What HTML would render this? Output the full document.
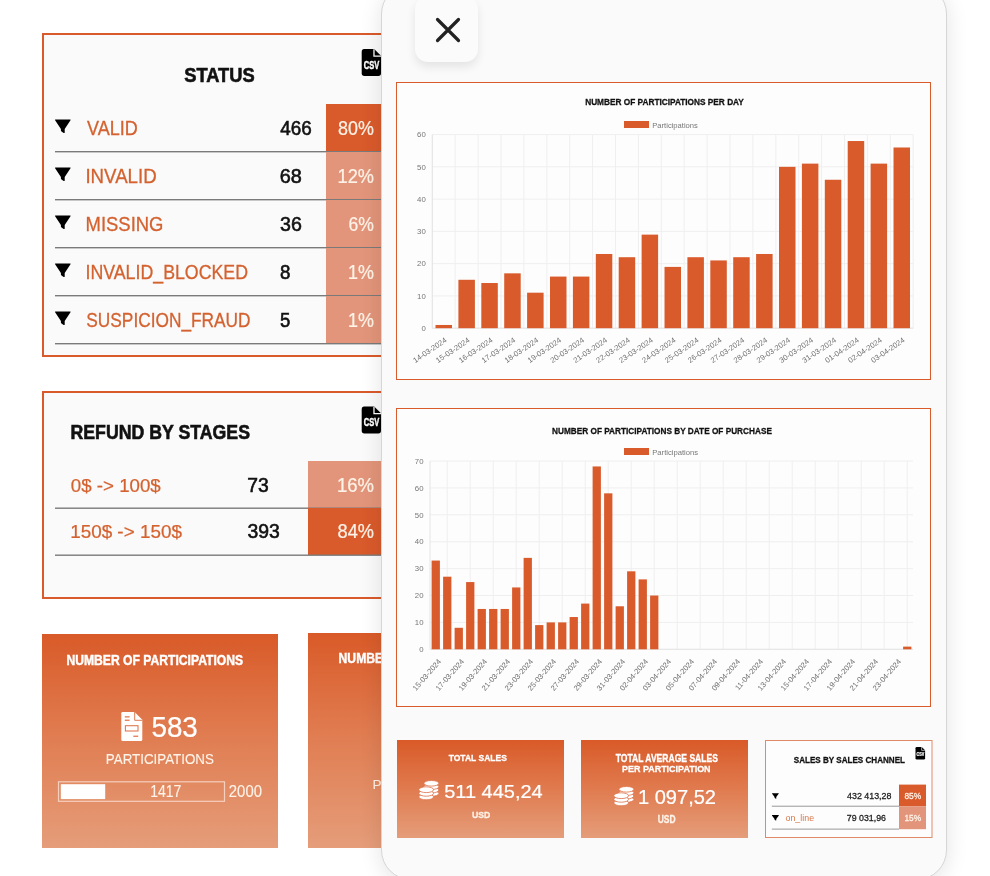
<!DOCTYPE html>
<html><head><meta charset="utf-8"><title>Dashboard</title>
<style>
html,body{margin:0;padding:0}
body{width:990px;height:876px;overflow:hidden;position:relative;background:#fff}
svg{position:absolute;left:0;top:0;font-family:'Liberation Sans', Arial, sans-serif}
</style></head><body>
<svg width="990" height="876" viewBox="0 0 990 876">
<defs><linearGradient id="g1" x1="0" y1="0" x2="0" y2="1"><stop offset="0" stop-color="#d95a28"/><stop offset="0.45" stop-color="#e07b4f"/><stop offset="1" stop-color="#e59d7a"/></linearGradient></defs>
<rect x="43" y="34" width="420" height="322" fill="#fafafa" stroke="#d95a2b" stroke-width="2"/>
<text x="184.29" y="81.70" font-size="20.34" font-weight="bold" fill="#111" stroke="#111" stroke-width="0.61" textLength="70.39" lengthAdjust="spacingAndGlyphs">STATUS</text>
<g transform="translate(361.7,49) scale(0.9897,1.0000)"><path d="M2.5 0H12.6L19.5 6.8V24.3Q19.5 27 16.8 27H2.7Q0 27 0 24.3V2.7Q0 0 2.5 0Z" fill="#000"/><path d="M12.4 0.2V7.2H19.5" fill="none" stroke="#fff" stroke-width="1.3"/><text x="9.9" y="20" text-anchor="middle" font-weight="bold" font-size="11.4" fill="#fff" stroke="#fff" stroke-width="0.5" textLength="15.6" lengthAdjust="spacingAndGlyphs">CSV</text></g>
<rect x="326" y="104" width="80" height="47.5" fill="#d95a2b"/>
<rect x="55" y="151" width="350" height="1.4" fill="#7a7a7a"/>
<path transform="translate(54.8,119.5) scale(1.00000,0.98571)" d="M0.7 0H15.3Q16.2 0 15.7 0.8L9.9 9.7V13.1Q9.9 14.2 8.9 13.6L6.7 12.3Q6.1 11.9 6.1 11.2V9.7L0.3 0.8Q-0.2 0 0.7 0Z" fill="#000"/>
<text x="87.02" y="134.70" font-size="20.06" fill="#d4622f" stroke="#d4622f" stroke-width="0.30" textLength="50.72" lengthAdjust="spacingAndGlyphs">VALID</text>
<text x="280.37" y="134.70" font-size="19.62" fill="#111" stroke="#111" stroke-width="0.59" textLength="31.46" lengthAdjust="spacingAndGlyphs">466</text>
<text x="338.12" y="134.70" font-size="19.62" fill="#fdf3e8" stroke="#fdf3e8" stroke-width="0.24" textLength="35.82" lengthAdjust="spacingAndGlyphs">80%</text>
<rect x="326" y="152" width="80" height="47.5" fill="#e2957a"/>
<rect x="55" y="199" width="350" height="1.4" fill="#7a7a7a"/>
<path transform="translate(54.8,167.5) scale(1.00000,0.98571)" d="M0.7 0H15.3Q16.2 0 15.7 0.8L9.9 9.7V13.1Q9.9 14.2 8.9 13.6L6.7 12.3Q6.1 11.9 6.1 11.2V9.7L0.3 0.8Q-0.2 0 0.7 0Z" fill="#000"/>
<text x="85.41" y="182.70" font-size="20.06" fill="#d4622f" stroke="#d4622f" stroke-width="0.30" textLength="71.27" lengthAdjust="spacingAndGlyphs">INVALID</text>
<text x="279.79" y="182.70" font-size="19.62" fill="#111" stroke="#111" stroke-width="0.59" textLength="22.07" lengthAdjust="spacingAndGlyphs">68</text>
<text x="337.51" y="182.70" font-size="19.62" fill="#fdf3e8" stroke="#fdf3e8" stroke-width="0.24" textLength="36.44" lengthAdjust="spacingAndGlyphs">12%</text>
<rect x="326" y="200" width="80" height="47.5" fill="#e2957a"/>
<rect x="55" y="247" width="350" height="1.4" fill="#7a7a7a"/>
<path transform="translate(54.8,215.5) scale(1.00000,0.98571)" d="M0.7 0H15.3Q16.2 0 15.7 0.8L9.9 9.7V13.1Q9.9 14.2 8.9 13.6L6.7 12.3Q6.1 11.9 6.1 11.2V9.7L0.3 0.8Q-0.2 0 0.7 0Z" fill="#000"/>
<text x="85.59" y="230.70" font-size="19.76" fill="#d4622f" stroke="#d4622f" stroke-width="0.30" textLength="77.89" lengthAdjust="spacingAndGlyphs">MISSING</text>
<text x="280.05" y="230.70" font-size="19.62" fill="#111" stroke="#111" stroke-width="0.59" textLength="21.81" lengthAdjust="spacingAndGlyphs">36</text>
<text x="348.51" y="230.70" font-size="19.62" fill="#fdf3e8" stroke="#fdf3e8" stroke-width="0.24" textLength="25.42" lengthAdjust="spacingAndGlyphs">6%</text>
<rect x="326" y="248" width="80" height="47.5" fill="#e2957a"/>
<rect x="55" y="295" width="350" height="1.4" fill="#7a7a7a"/>
<path transform="translate(54.8,263.5) scale(1.00000,0.98571)" d="M0.7 0H15.3Q16.2 0 15.7 0.8L9.9 9.7V13.1Q9.9 14.2 8.9 13.6L6.7 12.3Q6.1 11.9 6.1 11.2V9.7L0.3 0.8Q-0.2 0 0.7 0Z" fill="#000"/>
<text x="85.47" y="278.70" font-size="19.76" fill="#d4622f" stroke="#d4622f" stroke-width="0.30" textLength="162.57" lengthAdjust="spacingAndGlyphs">INVALID_BLOCKED</text>
<text x="279.99" y="278.70" font-size="19.62" fill="#111" stroke="#111" stroke-width="0.59" textLength="10.43" lengthAdjust="spacingAndGlyphs">8</text>
<text x="348.03" y="278.70" font-size="19.74" fill="#fdf3e8" stroke="#fdf3e8" stroke-width="0.24" textLength="25.90" lengthAdjust="spacingAndGlyphs">1%</text>
<rect x="326" y="296" width="80" height="47.5" fill="#e2957a"/>
<rect x="55" y="343" width="350" height="1.4" fill="#7a7a7a"/>
<path transform="translate(54.8,311.5) scale(1.00000,0.98571)" d="M0.7 0H15.3Q16.2 0 15.7 0.8L9.9 9.7V13.1Q9.9 14.2 8.9 13.6L6.7 12.3Q6.1 11.9 6.1 11.2V9.7L0.3 0.8Q-0.2 0 0.7 0Z" fill="#000"/>
<text x="86.32" y="326.70" font-size="19.76" fill="#d4622f" stroke="#d4622f" stroke-width="0.30" textLength="164.21" lengthAdjust="spacingAndGlyphs">SUSPICION_FRAUD</text>
<text x="280.06" y="326.70" font-size="19.91" fill="#111" stroke="#111" stroke-width="0.60" textLength="10.32" lengthAdjust="spacingAndGlyphs">5</text>
<text x="348.03" y="326.70" font-size="19.74" fill="#fdf3e8" stroke="#fdf3e8" stroke-width="0.24" textLength="25.90" lengthAdjust="spacingAndGlyphs">1%</text>
<rect x="43" y="392" width="420" height="206" fill="#fafafa" stroke="#d95a2b" stroke-width="2"/>
<text x="70.53" y="439.30" font-size="20.19" font-weight="bold" fill="#111" stroke="#111" stroke-width="0.61" textLength="179.46" lengthAdjust="spacingAndGlyphs">REFUND BY STAGES</text>
<g transform="translate(361.7,406.5) scale(0.9897,1.0000)"><path d="M2.5 0H12.6L19.5 6.8V24.3Q19.5 27 16.8 27H2.7Q0 27 0 24.3V2.7Q0 0 2.5 0Z" fill="#000"/><path d="M12.4 0.2V7.2H19.5" fill="none" stroke="#fff" stroke-width="1.3"/><text x="9.9" y="20" text-anchor="middle" font-weight="bold" font-size="11.4" fill="#fff" stroke="#fff" stroke-width="0.5" textLength="15.6" lengthAdjust="spacingAndGlyphs">CSV</text></g>
<rect x="308" y="461" width="100" height="47" fill="#e2957a"/>
<rect x="55" y="507.5" width="350" height="1.4" fill="#7a7a7a"/>
<text x="70.87" y="491.80" font-size="18.51" fill="#d4622f" stroke="#d4622f" stroke-width="0.22" textLength="89.83" lengthAdjust="spacingAndGlyphs">0$ -&gt; 100$</text>
<text x="247.21" y="491.80" font-size="19.62" fill="#111" stroke="#111" stroke-width="0.59" textLength="21.43" lengthAdjust="spacingAndGlyphs">73</text>
<text x="336.89" y="491.80" font-size="19.62" fill="#fdf3e8" stroke="#fdf3e8" stroke-width="0.24" textLength="37.07" lengthAdjust="spacingAndGlyphs">16%</text>
<rect x="308" y="508" width="100" height="47" fill="#d95a2b"/>
<rect x="55" y="554.5" width="350" height="1.4" fill="#7a7a7a"/>
<text x="70.16" y="538.40" font-size="18.51" fill="#d4622f" stroke="#d4622f" stroke-width="0.22" textLength="111.74" lengthAdjust="spacingAndGlyphs">150$ -&gt; 150$</text>
<text x="247.46" y="538.40" font-size="19.62" fill="#111" stroke="#111" stroke-width="0.59" textLength="32.29" lengthAdjust="spacingAndGlyphs">393</text>
<text x="337.51" y="538.40" font-size="19.62" fill="#fdf3e8" stroke="#fdf3e8" stroke-width="0.24" textLength="36.44" lengthAdjust="spacingAndGlyphs">84%</text>
<rect x="42" y="634" width="236" height="214" fill="url(#g1)"/>
<rect x="308" y="633" width="200" height="215" fill="url(#g1)"/>
<text x="66.40" y="664.50" font-size="13.89" font-weight="bold" fill="#fff" stroke="#fff" stroke-width="0.42" textLength="176.77" lengthAdjust="spacingAndGlyphs">NUMBER OF PARTICIPATIONS</text>
<text x="338.60" y="663.40" font-size="13.89" font-weight="bold" fill="#fff" stroke="#fff" stroke-width="0.42" textLength="176.77" lengthAdjust="spacingAndGlyphs">NUMBER OF PARTICIPATIONS</text>
<text x="372.60" y="789.00" font-size="13.6" fill="#fdf3e8">PARTICIPANTS</text>
<path d="M122.5 712H134.6L142.3 719.8V739.5Q142.3 741 140.8 741H122.8Q121.3 741 121.3 739.5V713.3Q121.3 712 122.5 712Z" fill="#fff"/><path d="M134.7 712V720.3H142.3" fill="none" stroke="#e07a52" stroke-width="1"/><rect x="124.8" y="716.2" width="4.8" height="1.3" fill="#e07a52"/><rect x="124.8" y="719.6" width="4.8" height="1.3" fill="#e07a52"/><rect x="125.4" y="725.7" width="12.6" height="5.3" fill="none" stroke="#e07a52" stroke-width="1.1"/><rect x="133.3" y="735.6" width="4.9" height="1.3" fill="#e07a52"/>
<text x="151.49" y="737.40" font-size="29.79" fill="#fff" stroke="#fff" stroke-width="0.24" textLength="46.33" lengthAdjust="spacingAndGlyphs">583</text>
<text x="105.84" y="763.90" font-size="14.75" fill="#fdf3e8" stroke="#fdf3e8" stroke-width="0.12" textLength="108.06" lengthAdjust="spacingAndGlyphs">PARTICIPATIONS</text>
<rect x="58.5" y="781.8" width="166" height="19.5" fill="none" stroke="#f6cfbd" stroke-width="1.2"/>
<rect x="60.8" y="784.2" width="44.4" height="14.9" fill="#fff"/>
<text x="150.13" y="797.40" font-size="16.13" fill="#fdf3e8" stroke="#fdf3e8" stroke-width="0.13" textLength="31.28" lengthAdjust="spacingAndGlyphs">1417</text>
<text x="228.85" y="796.70" font-size="15.90" fill="#fdf3e8" stroke="#fdf3e8" stroke-width="0.13" textLength="33.13" lengthAdjust="spacingAndGlyphs">2000</text>
</svg>
<div style="position:absolute;left:381px;top:-16px;width:564px;height:894px;border-radius:30px;background:#fafafa;border:1px solid #d6d6d6;box-shadow:0 4px 22px rgba(0,0,0,0.11)"></div>
<div style="position:absolute;left:415px;top:-4px;width:63px;height:66px;border-radius:13px;background:#fbfbfb;box-shadow:0 5px 10px rgba(0,0,0,0.09)"></div>
<svg width="990" height="876" viewBox="0 0 990 876">
<path d="M437.5 19.5L458.5 40.5M458.5 19.5L437.5 40.5" stroke="#222" stroke-width="3.2" stroke-linecap="round"/>
<defs><linearGradient id="g2" x1="0" y1="0" x2="0" y2="1"><stop offset="0" stop-color="#d95a28"/><stop offset="0.5" stop-color="#e07b4f"/><stop offset="1" stop-color="#e59d7a"/></linearGradient></defs>
<rect x="396.5" y="82.5" width="534" height="297" fill="#fdfdfd" stroke="#d95a2b" stroke-width="1"/>
<text x="585.16" y="104.90" font-size="8.88" font-weight="bold" fill="#111" stroke="#111" stroke-width="0.27" textLength="158.68" lengthAdjust="spacingAndGlyphs">NUMBER OF PARTICIPATIONS PER DAY</text>
<rect x="624" y="121" width="25" height="7" fill="#d95a2b"/>
<text x="652.28" y="127.60" font-size="7.80" fill="#777777" textLength="45.60" lengthAdjust="spacingAndGlyphs">Participations</text>
<line x1="432.3" y1="328.20" x2="913.2" y2="328.20" stroke="#efefef" stroke-width="1"/>
<text x="425.80" y="330.90" font-size="7.8" text-anchor="end" fill="#777">0</text>
<line x1="432.3" y1="295.93" x2="913.2" y2="295.93" stroke="#efefef" stroke-width="1"/>
<text x="425.80" y="298.63" font-size="7.8" text-anchor="end" fill="#777">10</text>
<line x1="432.3" y1="263.66" x2="913.2" y2="263.66" stroke="#efefef" stroke-width="1"/>
<text x="425.80" y="266.36" font-size="7.8" text-anchor="end" fill="#777">20</text>
<line x1="432.3" y1="231.39" x2="913.2" y2="231.39" stroke="#efefef" stroke-width="1"/>
<text x="425.80" y="234.09" font-size="7.8" text-anchor="end" fill="#777">30</text>
<line x1="432.3" y1="199.12" x2="913.2" y2="199.12" stroke="#efefef" stroke-width="1"/>
<text x="425.80" y="201.82" font-size="7.8" text-anchor="end" fill="#777">40</text>
<line x1="432.3" y1="166.85" x2="913.2" y2="166.85" stroke="#efefef" stroke-width="1"/>
<text x="425.80" y="169.55" font-size="7.8" text-anchor="end" fill="#777">50</text>
<line x1="432.3" y1="134.58" x2="913.2" y2="134.58" stroke="#efefef" stroke-width="1"/>
<text x="425.80" y="137.28" font-size="7.8" text-anchor="end" fill="#777">60</text>
<line x1="432.30" y1="134.58" x2="432.30" y2="328.2" stroke="#efefef" stroke-width="1"/>
<line x1="455.20" y1="134.58" x2="455.20" y2="328.2" stroke="#efefef" stroke-width="1"/>
<line x1="478.10" y1="134.58" x2="478.10" y2="328.2" stroke="#efefef" stroke-width="1"/>
<line x1="501.00" y1="134.58" x2="501.00" y2="328.2" stroke="#efefef" stroke-width="1"/>
<line x1="523.90" y1="134.58" x2="523.90" y2="328.2" stroke="#efefef" stroke-width="1"/>
<line x1="546.80" y1="134.58" x2="546.80" y2="328.2" stroke="#efefef" stroke-width="1"/>
<line x1="569.70" y1="134.58" x2="569.70" y2="328.2" stroke="#efefef" stroke-width="1"/>
<line x1="592.60" y1="134.58" x2="592.60" y2="328.2" stroke="#efefef" stroke-width="1"/>
<line x1="615.50" y1="134.58" x2="615.50" y2="328.2" stroke="#efefef" stroke-width="1"/>
<line x1="638.40" y1="134.58" x2="638.40" y2="328.2" stroke="#efefef" stroke-width="1"/>
<line x1="661.30" y1="134.58" x2="661.30" y2="328.2" stroke="#efefef" stroke-width="1"/>
<line x1="684.20" y1="134.58" x2="684.20" y2="328.2" stroke="#efefef" stroke-width="1"/>
<line x1="707.10" y1="134.58" x2="707.10" y2="328.2" stroke="#efefef" stroke-width="1"/>
<line x1="730.00" y1="134.58" x2="730.00" y2="328.2" stroke="#efefef" stroke-width="1"/>
<line x1="752.90" y1="134.58" x2="752.90" y2="328.2" stroke="#efefef" stroke-width="1"/>
<line x1="775.80" y1="134.58" x2="775.80" y2="328.2" stroke="#efefef" stroke-width="1"/>
<line x1="798.70" y1="134.58" x2="798.70" y2="328.2" stroke="#efefef" stroke-width="1"/>
<line x1="821.60" y1="134.58" x2="821.60" y2="328.2" stroke="#efefef" stroke-width="1"/>
<line x1="844.50" y1="134.58" x2="844.50" y2="328.2" stroke="#efefef" stroke-width="1"/>
<line x1="867.40" y1="134.58" x2="867.40" y2="328.2" stroke="#efefef" stroke-width="1"/>
<line x1="890.30" y1="134.58" x2="890.30" y2="328.2" stroke="#efefef" stroke-width="1"/>
<line x1="913.20" y1="134.58" x2="913.20" y2="328.2" stroke="#efefef" stroke-width="1"/>
<line x1="432.3" y1="134.58" x2="432.3" y2="328.2" stroke="#e4e4e4" stroke-width="1"/>
<line x1="432.3" y1="328.2" x2="913.2" y2="328.2" stroke="#e4e4e4" stroke-width="1"/>
<rect x="435.51" y="324.97" width="16.49" height="3.23" fill="#d95a2b"/>
<rect x="458.41" y="279.79" width="16.49" height="48.41" fill="#d95a2b"/>
<rect x="481.31" y="283.02" width="16.49" height="45.18" fill="#d95a2b"/>
<rect x="504.21" y="273.34" width="16.49" height="54.86" fill="#d95a2b"/>
<rect x="527.11" y="292.70" width="16.49" height="35.50" fill="#d95a2b"/>
<rect x="550.01" y="276.57" width="16.49" height="51.63" fill="#d95a2b"/>
<rect x="572.91" y="276.57" width="16.49" height="51.63" fill="#d95a2b"/>
<rect x="595.81" y="253.98" width="16.49" height="74.22" fill="#d95a2b"/>
<rect x="618.71" y="257.21" width="16.49" height="70.99" fill="#d95a2b"/>
<rect x="641.61" y="234.62" width="16.49" height="93.58" fill="#d95a2b"/>
<rect x="664.51" y="266.89" width="16.49" height="61.31" fill="#d95a2b"/>
<rect x="687.41" y="257.21" width="16.49" height="70.99" fill="#d95a2b"/>
<rect x="710.31" y="260.43" width="16.49" height="67.77" fill="#d95a2b"/>
<rect x="733.21" y="257.21" width="16.49" height="70.99" fill="#d95a2b"/>
<rect x="756.11" y="253.98" width="16.49" height="74.22" fill="#d95a2b"/>
<rect x="779.01" y="166.85" width="16.49" height="161.35" fill="#d95a2b"/>
<rect x="801.91" y="163.62" width="16.49" height="164.58" fill="#d95a2b"/>
<rect x="824.81" y="179.76" width="16.49" height="148.44" fill="#d95a2b"/>
<rect x="847.71" y="141.03" width="16.49" height="187.17" fill="#d95a2b"/>
<rect x="870.61" y="163.62" width="16.49" height="164.58" fill="#d95a2b"/>
<rect x="893.51" y="147.49" width="16.49" height="180.71" fill="#d95a2b"/>
<text transform="translate(447.35,341.50) rotate(-34)" text-anchor="end" font-size="7.6" fill="#707070">14-03-2024</text>
<text transform="translate(470.25,341.50) rotate(-34)" text-anchor="end" font-size="7.6" fill="#707070">15-03-2024</text>
<text transform="translate(493.15,341.50) rotate(-34)" text-anchor="end" font-size="7.6" fill="#707070">16-03-2024</text>
<text transform="translate(516.05,341.50) rotate(-34)" text-anchor="end" font-size="7.6" fill="#707070">17-03-2024</text>
<text transform="translate(538.95,341.50) rotate(-34)" text-anchor="end" font-size="7.6" fill="#707070">18-03-2024</text>
<text transform="translate(561.85,341.50) rotate(-34)" text-anchor="end" font-size="7.6" fill="#707070">19-03-2024</text>
<text transform="translate(584.75,341.50) rotate(-34)" text-anchor="end" font-size="7.6" fill="#707070">20-03-2024</text>
<text transform="translate(607.65,341.50) rotate(-34)" text-anchor="end" font-size="7.6" fill="#707070">21-03-2024</text>
<text transform="translate(630.55,341.50) rotate(-34)" text-anchor="end" font-size="7.6" fill="#707070">22-03-2024</text>
<text transform="translate(653.45,341.50) rotate(-34)" text-anchor="end" font-size="7.6" fill="#707070">23-03-2024</text>
<text transform="translate(676.35,341.50) rotate(-34)" text-anchor="end" font-size="7.6" fill="#707070">24-03-2024</text>
<text transform="translate(699.25,341.50) rotate(-34)" text-anchor="end" font-size="7.6" fill="#707070">25-03-2024</text>
<text transform="translate(722.15,341.50) rotate(-34)" text-anchor="end" font-size="7.6" fill="#707070">26-03-2024</text>
<text transform="translate(745.05,341.50) rotate(-34)" text-anchor="end" font-size="7.6" fill="#707070">27-03-2024</text>
<text transform="translate(767.95,341.50) rotate(-34)" text-anchor="end" font-size="7.6" fill="#707070">28-03-2024</text>
<text transform="translate(790.85,341.50) rotate(-34)" text-anchor="end" font-size="7.6" fill="#707070">29-03-2024</text>
<text transform="translate(813.75,341.50) rotate(-34)" text-anchor="end" font-size="7.6" fill="#707070">30-03-2024</text>
<text transform="translate(836.65,341.50) rotate(-34)" text-anchor="end" font-size="7.6" fill="#707070">31-03-2024</text>
<text transform="translate(859.55,341.50) rotate(-34)" text-anchor="end" font-size="7.6" fill="#707070">01-04-2024</text>
<text transform="translate(882.45,341.50) rotate(-34)" text-anchor="end" font-size="7.6" fill="#707070">02-04-2024</text>
<text transform="translate(905.35,341.50) rotate(-34)" text-anchor="end" font-size="7.6" fill="#707070">03-04-2024</text>
<rect x="396.5" y="408.5" width="534" height="298" fill="#fdfdfd" stroke="#d95a2b" stroke-width="1"/>
<text x="552.06" y="434.40" font-size="9.02" font-weight="bold" fill="#111" stroke="#111" stroke-width="0.27" textLength="219.86" lengthAdjust="spacingAndGlyphs">NUMBER OF PARTICIPATIONS BY DATE OF PURCHASE</text>
<rect x="624" y="448" width="25" height="7" fill="#d95a2b"/>
<text x="652.27" y="454.60" font-size="7.80" fill="#777777" textLength="45.80" lengthAdjust="spacingAndGlyphs">Participations</text>
<line x1="430" y1="649.30" x2="913" y2="649.30" stroke="#efefef" stroke-width="1"/>
<text x="423.50" y="652.00" font-size="7.8" text-anchor="end" fill="#777">0</text>
<line x1="430" y1="622.41" x2="913" y2="622.41" stroke="#efefef" stroke-width="1"/>
<text x="423.50" y="625.11" font-size="7.8" text-anchor="end" fill="#777">10</text>
<line x1="430" y1="595.52" x2="913" y2="595.52" stroke="#efefef" stroke-width="1"/>
<text x="423.50" y="598.22" font-size="7.8" text-anchor="end" fill="#777">20</text>
<line x1="430" y1="568.63" x2="913" y2="568.63" stroke="#efefef" stroke-width="1"/>
<text x="423.50" y="571.33" font-size="7.8" text-anchor="end" fill="#777">30</text>
<line x1="430" y1="541.74" x2="913" y2="541.74" stroke="#efefef" stroke-width="1"/>
<text x="423.50" y="544.44" font-size="7.8" text-anchor="end" fill="#777">40</text>
<line x1="430" y1="514.85" x2="913" y2="514.85" stroke="#efefef" stroke-width="1"/>
<text x="423.50" y="517.55" font-size="7.8" text-anchor="end" fill="#777">50</text>
<line x1="430" y1="487.96" x2="913" y2="487.96" stroke="#efefef" stroke-width="1"/>
<text x="423.50" y="490.66" font-size="7.8" text-anchor="end" fill="#777">60</text>
<line x1="430" y1="461.07" x2="913" y2="461.07" stroke="#efefef" stroke-width="1"/>
<text x="423.50" y="463.77" font-size="7.8" text-anchor="end" fill="#777">70</text>
<line x1="447.25" y1="461.07" x2="447.25" y2="649.3" stroke="#efefef" stroke-width="1"/>
<line x1="470.25" y1="461.07" x2="470.25" y2="649.3" stroke="#efefef" stroke-width="1"/>
<line x1="493.25" y1="461.07" x2="493.25" y2="649.3" stroke="#efefef" stroke-width="1"/>
<line x1="516.25" y1="461.07" x2="516.25" y2="649.3" stroke="#efefef" stroke-width="1"/>
<line x1="539.25" y1="461.07" x2="539.25" y2="649.3" stroke="#efefef" stroke-width="1"/>
<line x1="562.25" y1="461.07" x2="562.25" y2="649.3" stroke="#efefef" stroke-width="1"/>
<line x1="585.25" y1="461.07" x2="585.25" y2="649.3" stroke="#efefef" stroke-width="1"/>
<line x1="608.25" y1="461.07" x2="608.25" y2="649.3" stroke="#efefef" stroke-width="1"/>
<line x1="631.25" y1="461.07" x2="631.25" y2="649.3" stroke="#efefef" stroke-width="1"/>
<line x1="654.25" y1="461.07" x2="654.25" y2="649.3" stroke="#efefef" stroke-width="1"/>
<line x1="677.25" y1="461.07" x2="677.25" y2="649.3" stroke="#efefef" stroke-width="1"/>
<line x1="700.25" y1="461.07" x2="700.25" y2="649.3" stroke="#efefef" stroke-width="1"/>
<line x1="723.25" y1="461.07" x2="723.25" y2="649.3" stroke="#efefef" stroke-width="1"/>
<line x1="746.25" y1="461.07" x2="746.25" y2="649.3" stroke="#efefef" stroke-width="1"/>
<line x1="769.25" y1="461.07" x2="769.25" y2="649.3" stroke="#efefef" stroke-width="1"/>
<line x1="792.25" y1="461.07" x2="792.25" y2="649.3" stroke="#efefef" stroke-width="1"/>
<line x1="815.25" y1="461.07" x2="815.25" y2="649.3" stroke="#efefef" stroke-width="1"/>
<line x1="838.25" y1="461.07" x2="838.25" y2="649.3" stroke="#efefef" stroke-width="1"/>
<line x1="861.25" y1="461.07" x2="861.25" y2="649.3" stroke="#efefef" stroke-width="1"/>
<line x1="884.25" y1="461.07" x2="884.25" y2="649.3" stroke="#efefef" stroke-width="1"/>
<line x1="907.25" y1="461.07" x2="907.25" y2="649.3" stroke="#efefef" stroke-width="1"/>
<line x1="430" y1="461.07" x2="430" y2="649.3" stroke="#e4e4e4" stroke-width="1"/>
<line x1="430" y1="649.3" x2="913" y2="649.3" stroke="#e4e4e4" stroke-width="1"/>
<rect x="431.61" y="560.56" width="8.28" height="88.74" fill="#d95a2b"/>
<rect x="443.11" y="576.70" width="8.28" height="72.60" fill="#d95a2b"/>
<rect x="454.61" y="627.79" width="8.28" height="21.51" fill="#d95a2b"/>
<rect x="466.11" y="582.07" width="8.28" height="67.22" fill="#d95a2b"/>
<rect x="477.61" y="608.96" width="8.28" height="40.34" fill="#d95a2b"/>
<rect x="489.11" y="608.96" width="8.28" height="40.34" fill="#d95a2b"/>
<rect x="500.61" y="608.96" width="8.28" height="40.34" fill="#d95a2b"/>
<rect x="512.11" y="587.45" width="8.28" height="61.85" fill="#d95a2b"/>
<rect x="523.61" y="557.87" width="8.28" height="91.43" fill="#d95a2b"/>
<rect x="535.11" y="625.10" width="8.28" height="24.20" fill="#d95a2b"/>
<rect x="546.61" y="622.41" width="8.28" height="26.89" fill="#d95a2b"/>
<rect x="558.11" y="622.41" width="8.28" height="26.89" fill="#d95a2b"/>
<rect x="569.61" y="617.03" width="8.28" height="32.27" fill="#d95a2b"/>
<rect x="581.11" y="603.59" width="8.28" height="45.71" fill="#d95a2b"/>
<rect x="592.61" y="466.45" width="8.28" height="182.85" fill="#d95a2b"/>
<rect x="604.11" y="493.34" width="8.28" height="155.96" fill="#d95a2b"/>
<rect x="615.61" y="606.28" width="8.28" height="43.02" fill="#d95a2b"/>
<rect x="627.11" y="571.32" width="8.28" height="77.98" fill="#d95a2b"/>
<rect x="638.61" y="579.39" width="8.28" height="69.91" fill="#d95a2b"/>
<rect x="650.11" y="595.52" width="8.28" height="53.78" fill="#d95a2b"/>
<rect x="903.11" y="646.61" width="8.28" height="2.69" fill="#d95a2b"/>
<text transform="translate(441.55,661.80) rotate(-49)" text-anchor="end" font-size="7.6" fill="#707070">15-03-2024</text>
<text transform="translate(464.55,661.80) rotate(-49)" text-anchor="end" font-size="7.6" fill="#707070">17-03-2024</text>
<text transform="translate(487.55,661.80) rotate(-49)" text-anchor="end" font-size="7.6" fill="#707070">19-03-2024</text>
<text transform="translate(510.55,661.80) rotate(-49)" text-anchor="end" font-size="7.6" fill="#707070">21-03-2024</text>
<text transform="translate(533.55,661.80) rotate(-49)" text-anchor="end" font-size="7.6" fill="#707070">23-03-2024</text>
<text transform="translate(556.55,661.80) rotate(-49)" text-anchor="end" font-size="7.6" fill="#707070">25-03-2024</text>
<text transform="translate(579.55,661.80) rotate(-49)" text-anchor="end" font-size="7.6" fill="#707070">27-03-2024</text>
<text transform="translate(602.55,661.80) rotate(-49)" text-anchor="end" font-size="7.6" fill="#707070">29-03-2024</text>
<text transform="translate(625.55,661.80) rotate(-49)" text-anchor="end" font-size="7.6" fill="#707070">31-03-2024</text>
<text transform="translate(648.55,661.80) rotate(-49)" text-anchor="end" font-size="7.6" fill="#707070">02-04-2024</text>
<text transform="translate(671.55,661.80) rotate(-49)" text-anchor="end" font-size="7.6" fill="#707070">03-04-2024</text>
<text transform="translate(694.55,661.80) rotate(-49)" text-anchor="end" font-size="7.6" fill="#707070">05-04-2024</text>
<text transform="translate(717.55,661.80) rotate(-49)" text-anchor="end" font-size="7.6" fill="#707070">07-04-2024</text>
<text transform="translate(740.55,661.80) rotate(-49)" text-anchor="end" font-size="7.6" fill="#707070">09-04-2024</text>
<text transform="translate(763.55,661.80) rotate(-49)" text-anchor="end" font-size="7.6" fill="#707070">11-04-2024</text>
<text transform="translate(786.55,661.80) rotate(-49)" text-anchor="end" font-size="7.6" fill="#707070">13-04-2024</text>
<text transform="translate(809.55,661.80) rotate(-49)" text-anchor="end" font-size="7.6" fill="#707070">15-04-2024</text>
<text transform="translate(832.55,661.80) rotate(-49)" text-anchor="end" font-size="7.6" fill="#707070">17-04-2024</text>
<text transform="translate(855.55,661.80) rotate(-49)" text-anchor="end" font-size="7.6" fill="#707070">19-04-2024</text>
<text transform="translate(878.55,661.80) rotate(-49)" text-anchor="end" font-size="7.6" fill="#707070">21-04-2024</text>
<text transform="translate(901.55,661.80) rotate(-49)" text-anchor="end" font-size="7.6" fill="#707070">23-04-2024</text>
<rect x="397" y="740" width="167" height="98" fill="url(#g2)"/>
<text x="448.71" y="760.70" font-size="9.74" font-weight="bold" fill="#fff" stroke="#fff" stroke-width="0.29" textLength="58.12" lengthAdjust="spacingAndGlyphs">TOTAL SALES</text>
<g transform="translate(418,779.5)"><ellipse cx="13.4" cy="14.00" rx="7.5" ry="2.8" fill="#fff" stroke="#df7751" stroke-width="0.85"/><ellipse cx="13.4" cy="10.60" rx="7.5" ry="2.8" fill="#fff" stroke="#df7751" stroke-width="0.85"/><ellipse cx="13.4" cy="7.20" rx="7.5" ry="2.8" fill="#fff" stroke="#df7751" stroke-width="0.85"/><ellipse cx="13.4" cy="3.80" rx="7.5" ry="2.8" fill="#fff" stroke="#df7751" stroke-width="0.85"/><ellipse cx="8.2" cy="17.40" rx="7.4" ry="2.9" fill="#fff" stroke="#df7751" stroke-width="0.85"/><ellipse cx="8.2" cy="13.80" rx="7.4" ry="2.9" fill="#fff" stroke="#df7751" stroke-width="0.85"/><ellipse cx="8.2" cy="10.20" rx="7.4" ry="2.9" fill="#fff" stroke="#df7751" stroke-width="0.85"/></g>
<text x="444.21" y="797.70" font-size="19.19" fill="#fff" stroke="#fff" stroke-width="0.23" textLength="98.46" lengthAdjust="spacingAndGlyphs">511 445,24</text>
<text x="471.98" y="818.00" font-size="9.60" font-weight="bold" fill="#fdf3e8" stroke="#fdf3e8" stroke-width="0.29" textLength="18.39" lengthAdjust="spacingAndGlyphs">USD</text>
<rect x="581" y="740" width="167" height="98" fill="url(#g2)"/>
<text x="615.71" y="761.70" font-size="10.17" font-weight="bold" fill="#fff" stroke="#fff" stroke-width="0.31" textLength="102.22" lengthAdjust="spacingAndGlyphs">TOTAL AVERAGE SALES</text>
<text x="622.01" y="772.20" font-size="9.60" font-weight="bold" fill="#fff" stroke="#fff" stroke-width="0.29" textLength="88.58" lengthAdjust="spacingAndGlyphs">PER PARTICIPATION</text>
<g transform="translate(613,785.5)"><ellipse cx="13.4" cy="14.00" rx="7.5" ry="2.8" fill="#fff" stroke="#df7751" stroke-width="0.85"/><ellipse cx="13.4" cy="10.60" rx="7.5" ry="2.8" fill="#fff" stroke="#df7751" stroke-width="0.85"/><ellipse cx="13.4" cy="7.20" rx="7.5" ry="2.8" fill="#fff" stroke="#df7751" stroke-width="0.85"/><ellipse cx="13.4" cy="3.80" rx="7.5" ry="2.8" fill="#fff" stroke="#df7751" stroke-width="0.85"/><ellipse cx="8.2" cy="17.40" rx="7.4" ry="2.9" fill="#fff" stroke="#df7751" stroke-width="0.85"/><ellipse cx="8.2" cy="13.80" rx="7.4" ry="2.9" fill="#fff" stroke="#df7751" stroke-width="0.85"/><ellipse cx="8.2" cy="10.20" rx="7.4" ry="2.9" fill="#fff" stroke="#df7751" stroke-width="0.85"/></g>
<text x="637.97" y="803.60" font-size="19.76" fill="#fff" stroke="#fff" stroke-width="0.24" textLength="78.04" lengthAdjust="spacingAndGlyphs">1 097,52</text>
<text x="657.69" y="822.80" font-size="10.31" font-weight="bold" fill="#fdf3e8" stroke="#fdf3e8" stroke-width="0.31" textLength="17.86" lengthAdjust="spacingAndGlyphs">USD</text>
<rect x="765.5" y="740.5" width="166.5" height="97" fill="#fdfdfd" stroke="#e08a68" stroke-width="1"/>
<text x="793.77" y="762.60" font-size="9.74" font-weight="bold" fill="#111" stroke="#111" stroke-width="0.29" textLength="111.28" lengthAdjust="spacingAndGlyphs">SALES BY SALES CHANNEL</text>
<g transform="translate(915.5,747) scale(0.4923,0.4630)"><path d="M2.5 0H12.6L19.5 6.8V24.3Q19.5 27 16.8 27H2.7Q0 27 0 24.3V2.7Q0 0 2.5 0Z" fill="#000"/><path d="M12.4 0.2V7.2H19.5" fill="none" stroke="#fff" stroke-width="1.3"/><text x="9.9" y="20" text-anchor="middle" font-weight="bold" font-size="11.4" fill="#fff" stroke="#fff" stroke-width="0.5" textLength="15.6" lengthAdjust="spacingAndGlyphs">CSV</text></g>
<rect x="899" y="784.6" width="27" height="21.6" fill="#d95a2b"/>
<rect x="899" y="806.2" width="27" height="23" fill="#e2957a"/>
<rect x="771.8" y="805.7" width="127.2" height="1" fill="#999"/>
<rect x="771.8" y="828.6" width="127.2" height="1" fill="#999"/>
<path transform="translate(771.8,793.2) scale(0.45000,0.40000)" d="M0.7 0H15.3Q16.2 0 15.7 0.8L9.9 9.7V13.1Q9.9 14.2 8.9 13.6L6.7 12.3Q6.1 11.9 6.1 11.2V9.7L0.3 0.8Q-0.2 0 0.7 0Z" fill="#000"/>
<path transform="translate(771.8,815.1) scale(0.45000,0.40000)" d="M0.7 0H15.3Q16.2 0 15.7 0.8L9.9 9.7V13.1Q9.9 14.2 8.9 13.6L6.7 12.3Q6.1 11.9 6.1 11.2V9.7L0.3 0.8Q-0.2 0 0.7 0Z" fill="#000"/>
<text x="847.00" y="799.00" font-size="9.88" fill="#222" stroke="#222" stroke-width="0.30" textLength="44.49" lengthAdjust="spacingAndGlyphs">432 413,28</text>
<text x="785.53" y="820.60" font-size="9.11" fill="#d9784a" textLength="28.57" lengthAdjust="spacingAndGlyphs">on_line</text>
<text x="846.75" y="821.00" font-size="9.60" fill="#222" stroke="#222" stroke-width="0.29" textLength="39.24" lengthAdjust="spacingAndGlyphs">79 031,96</text>
<text x="904.44" y="798.90" font-size="9.17" fill="#fdf3e8" stroke="#fdf3e8" stroke-width="0.27" textLength="16.76" lengthAdjust="spacingAndGlyphs">85%</text>
<text x="904.46" y="821.00" font-size="9.51" fill="#fdf3e8" stroke="#fdf3e8" stroke-width="0.29" textLength="16.73" lengthAdjust="spacingAndGlyphs">15%</text>
</svg>
</body></html>
